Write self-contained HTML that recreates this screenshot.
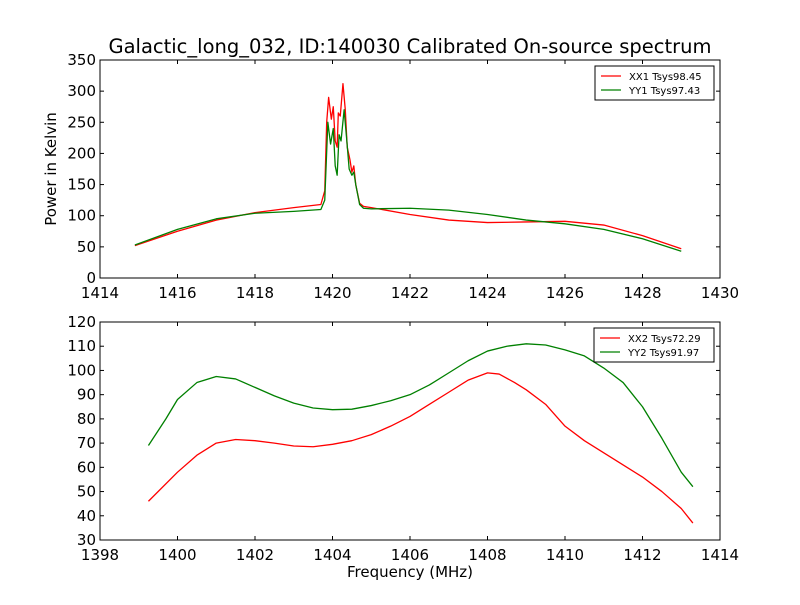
<!DOCTYPE html>
<html><head><meta charset="utf-8"><style>
body{margin:0;background:#fff;}
svg text{font-family:"DejaVu Sans","Liberation Sans",sans-serif;}
</style></head><body>
<svg id="fig" width="800" height="600" viewBox="0 0 800 600">
<rect width="800" height="600" fill="#fff"/>
<text x="410" y="53" font-size="19.5" text-anchor="middle">Galactic_long_032, ID:140030 Calibrated On-source spectrum</text>
<g id="top"></g>
<g id="bot"></g>
<text x="410" y="577" font-size="15" text-anchor="middle">Frequency (MHz)</text>
<text transform="translate(56,169) rotate(-90)" font-size="15" text-anchor="middle">Power in Kelvin</text>
</svg>
<script>
const topXX1F=[1414.9,1416,1417,1418,1419,1419.7,1419.8,1419.85,1419.9,1419.97,1420.02,1420.07,1420.12,1420.15,1420.2,1420.27,1420.33,1420.38,1420.45,1420.5,1420.55,1420.6,1420.7,1420.8,1421,1422,1423,1424,1425,1426,1427,1428,1429];
const topXX1V=[52,75,93,105,113,118,140,250,290,255,275,220,210,265,260,312,270,210,190,170,180,150,120,115,113,102,93,89,90,91,85,68,47];
const topYY1F=[1414.9,1416,1417,1418,1419,1419.7,1419.8,1419.88,1419.95,1420.02,1420.07,1420.12,1420.17,1420.22,1420.3,1420.37,1420.43,1420.5,1420.55,1420.6,1420.7,1420.8,1421,1422,1423,1424,1425,1426,1427,1428,1429];
const topYY1V=[53,78,95,104,107,110,125,250,215,240,180,165,230,220,270,220,175,165,170,150,118,112,111,112,109,102,93,87,78,63,43];
const botXX2F=[1399.25,1400,1400.5,1401,1401.5,1402,1402.5,1403,1403.5,1404,1404.5,1405,1405.5,1406,1406.5,1407,1407.5,1408,1408.3,1408.7,1409,1409.5,1410,1410.5,1411,1411.5,1412,1412.5,1413,1413.3];
const botXX2V=[46,58,65,70,71.5,71,70,68.8,68.5,69.5,71,73.5,77,81,86,91,96,99,98.5,95,92,86,77,71,66,61,56,50,43,37];
const botYY2F=[1399.25,1399.7,1400,1400.5,1401,1401.5,1402,1402.5,1403,1403.5,1404,1404.5,1405,1405.5,1406,1406.5,1407,1407.5,1408,1408.5,1409,1409.5,1410,1410.5,1411,1411.5,1412,1412.5,1413,1413.3];
const botYY2V=[69,80,88,95,97.5,96.5,93,89.5,86.5,84.5,83.8,84,85.5,87.5,90,94,99,104,108,110,111,110.5,108.5,106,101,95,85,72,58,52];
const topXTicks=[1414,1416,1418,1420,1422,1424,1426,1428,1430];
const topYTicks=[0,50,100,150,200,250,300,350];
const botXTicks=[1398,1400,1402,1404,1406,1408,1410,1412,1414];
const botYTicks=[30,40,50,60,70,80,90,100,110,120];
const NS="http://www.w3.org/2000/svg";
function mk(p,t,a){const e=document.createElementNS(NS,t);for(const k in a)e.setAttribute(k,a[k]);p.appendChild(e);return e;}
function panel(g,top,bot,x0,x1,y0,y1,xt,yt,series,legend,ly){
 const L=100,R=720;
 const sx=f=>L+(f-x0)/(x1-x0)*(R-L), sy=v=>bot-(v-y0)/(y1-y0)*(bot-top);
 series.forEach(s=>{
  const pl=mk(g,'polyline',{points:s.f.map((f,i)=>sx(f)+','+sy(s.v[i])).join(' '),fill:'none',stroke:s.c,'stroke-width':1.3,'stroke-linejoin':'round'});
  
  
 });
 const fr=mk(g,'rect',{x:L,y:top,width:R-L,height:bot-top,fill:'none',stroke:'#000'});
 
 
 xt.forEach(t=>{const x=sx(t);mk(g,'line',{x1:x,x2:x,y1:bot,y2:bot-4,stroke:'#000'});mk(g,'line',{x1:x,x2:x,y1:top,y2:top+4,stroke:'#000'});
  const tx=mk(g,'text',{x:x,y:bot+20,'font-size':15,'text-anchor':'middle'});tx.textContent=t;
  
  });
 yt.forEach(t=>{const y=sy(t);mk(g,'line',{x1:L,x2:L+4,y1:y,y2:y,stroke:'#000'});mk(g,'line',{x1:R,x2:R-4,y1:y,y2:y,stroke:'#000'});
  const tx=mk(g,'text',{x:L-4,y:y+5,'font-size':15,'text-anchor':'end'});tx.textContent=t;
  
  });
 const lg=mk(g,'g',{});
 
 
 mk(lg,'rect',{x:legend,y:ly,width:714-legend,height:34,fill:'#fff',stroke:'#000'});
 series.forEach((s,i)=>{const y=ly+10+i*14;
  mk(lg,'line',{x1:legend+6,x2:legend+26,y1:y,y2:y,stroke:s.c,'stroke-width':1.3});
  const tx=mk(lg,'text',{x:legend+34,y:y+4,'font-size':10});tx.textContent=s.label;
  
  });
}
panel(document.getElementById('top'),60,278,1414,1430,0,350,topXTicks,topYTicks,
 [{f:topXX1F,v:topXX1V,c:'#ff0000',label:'XX1 Tsys98.45',name:'series-xx1'},{f:topYY1F,v:topYY1V,c:'#008000',label:'YY1 Tsys97.43',name:'series-yy1'}],595,66);
panel(document.getElementById('bot'),322,540,1398,1414,30,120,botXTicks,botYTicks,
 [{f:botXX2F,v:botXX2V,c:'#ff0000',label:'XX2 Tsys72.29',name:'series-xx2'},{f:botYY2F,v:botYY2V,c:'#008000',label:'YY2 Tsys91.97',name:'series-yy2'}],594,328);
</script>
</body></html>
